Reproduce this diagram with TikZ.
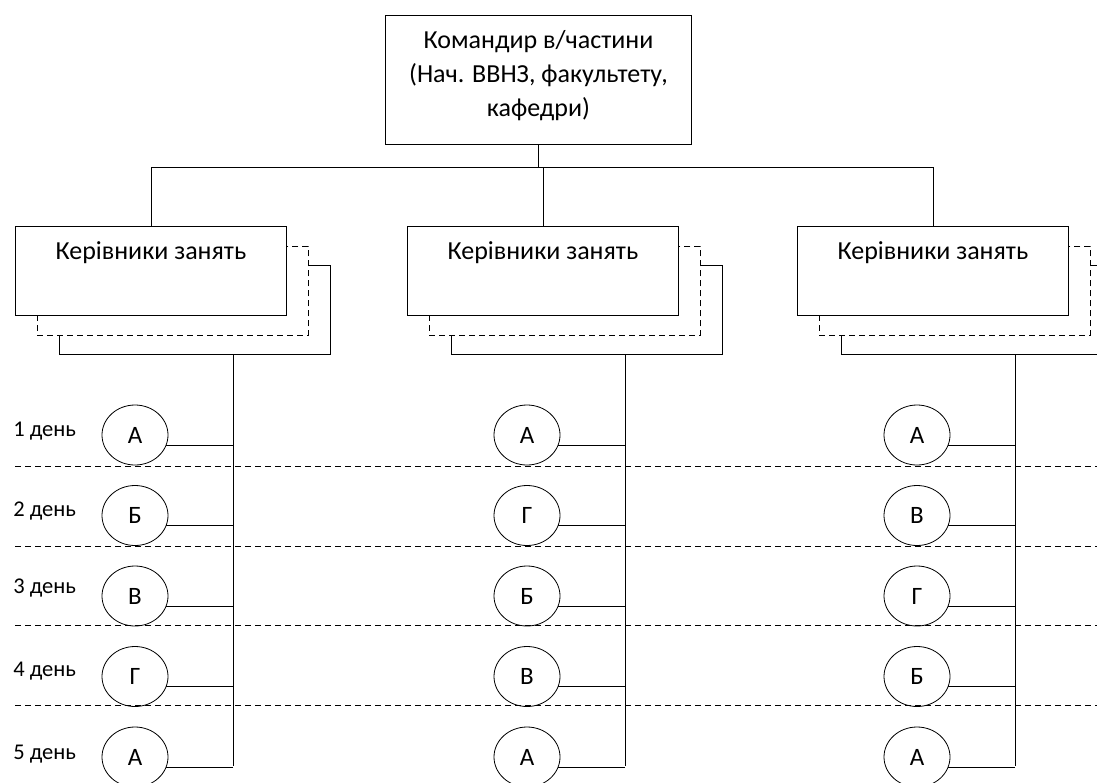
\documentclass[tikz,border=0pt]{standalone}
\usepackage{fontspec}
\setmainfont{Carlito}
\usetikzlibrary{shapes.geometric}
\begin{document}
\begin{tikzpicture}[x=1pt,y=-1pt,
  line width=0.8pt,
  boxfront/.style={draw, fill=white, minimum width=271pt, minimum height=89pt, anchor=north west, inner sep=0pt},
  boxdash/.style={boxfront, dashed, dash pattern=on 6pt off 4pt},
  boxtxt/.style={font=\fontsize{26}{30}\selectfont, anchor=base, inner sep=0pt},
  topbox/.style={draw, line width=1pt, minimum width=306pt, minimum height=129pt, anchor=north west, inner sep=0pt},
  toptext/.style={align=center, inner sep=0pt, font=\fontsize{26}{34}\selectfont},
  day/.style={draw, ellipse, minimum width=66pt, minimum height=60pt, inner sep=0pt, font=\fontsize{25}{28}\selectfont},
  daylbl/.style={anchor=base west, inner sep=0pt, font=\fontsize{22.5}{26}\selectfont},
  sep/.style={dashed, dash pattern=on 6pt off 4pt}
]
\useasboundingbox (0,0) rectangle (1097,782);

% top box
\node[topbox] (top) at (385,15) {};
\node[toptext] (toptxt) at ([yshift=4pt]top.center) {Командир в/частини\\(Нач. ВВНЗ, факультету,\\кафедри)};

% stacks of boxes
\foreach \i/\bx in {1/15,2/407,3/797}{
  \node[boxfront] (t\i) at (\bx+44,265) {};
  \node[boxdash]  (d\i) at (\bx+22,246) {};
  \node[boxfront] (b\i) at (\bx,226) {};
  \node[boxtxt]   (l\i) at ([yshift=-33pt]b\i.north) {Керівники занять};
  \coordinate (v\i) at (\bx+218,766);
  \draw (t\i.south -| v\i) -- (v\i);
}

% top connectors
\coordinate (hl) at (0,167);
\draw (b1.north) -- (b1.north |- hl) -- (b3.north |- hl) -- (b3.north);
\draw (top.south) -- (top.south |- hl);
\draw (b2.north) -- (b2.north |- hl);

% separators
\foreach \k/\yy in {1/466,2/546,3/625,4/705}{
  \coordinate (sl\k) at (15,\yy);
  \coordinate (sr\k) at (1097,\yy);
  \draw[sep] (sl\k) -- (sr\k);
}

% day labels
\foreach \r/\yy in {1/436,2/516,3/593,4/676,5/759}{
  \node[daylbl] (dl\r) at (13,\yy) {\r\ день};
}

% circles
\foreach \c/\bx/\letters in {1/15/{А,Б,В,Г,А},2/407/{А,Г,Б,В,А},3/797/{А,В,Г,Б,А}}{
  \foreach \L [count=\r] in \letters {
    \pgfmathsetmacro{\cy}{435+80.5*(\r-1)}
    \node[day] (c\c\r) at (\bx+120,\cy) {\L};
    \draw (c\c\r.-18) -- (c\c\r.-18 -| v\c);
  }
}
\end{tikzpicture}
\end{document}
